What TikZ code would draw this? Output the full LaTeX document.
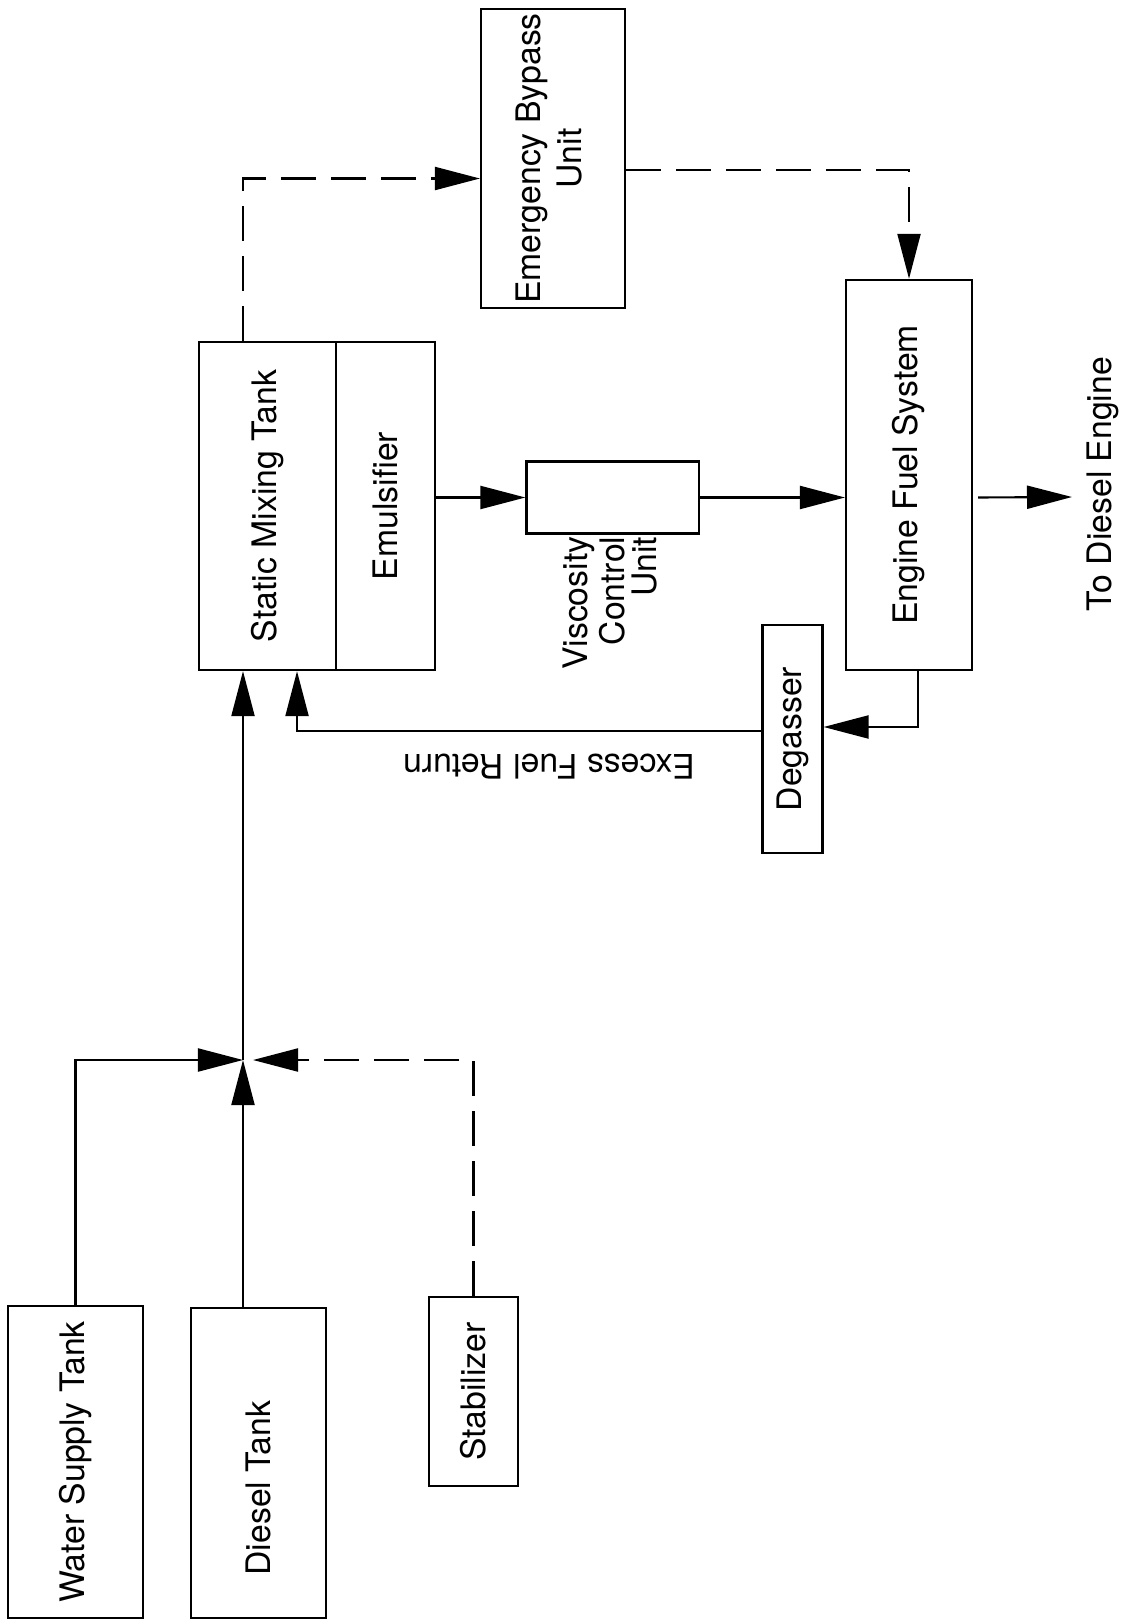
\documentclass[tikz,border=0pt]{standalone}
\usepackage{fontspec}
\setmainfont{TeX Gyre Heros}
\usepackage{graphicx}
\usetikzlibrary{arrows.meta,positioning}

\newcommand{\vtext}[1]{\rotatebox{90}{#1}}

\begin{document}
\begin{tikzpicture}[
    x=0.01cm, y=-0.01cm,
    unit/.style={rectangle, draw, line width=0.6pt, inner sep=0pt, font=\fontsize{9.6}{11.4}\selectfont},
    caption/.style={inner sep=0pt, font=\fontsize{9.6}{9.1}\selectfont},
    flow/.style={-{Triangle[length=4.5mm,width=2.3mm]}, line width=0.6pt},
    dflow/.style={flow, dash pattern=on 3.5mm off 1.5mm}
]
\useasboundingbox (0,0) rectangle (1125,1622);

% --- Supply tanks ---
\node[unit, minimum width=13.5mm, minimum height=31.2mm] (water) at (75.5,1462) {\vtext{Water Supply Tank}};
\node[unit, minimum width=13.5mm, minimum height=31mm] (diesel) at (258.5,1463) {\vtext{\hspace*{-5mm}Diesel Tank}};
\node[unit, minimum width=8.9mm, minimum height=18.9mm] (stab) at (473.5,1391.5) {\vtext{Stabilizer}};
\coordinate (mix) at (243,1060);

\draw[flow] (water.north) |- (mix);
\draw[flow] (diesel.north -| mix) -- (mix);
\draw[dflow, shorten >=1mm] (stab.north) |- (mix);

% --- Mixing ---
\node[unit, minimum width=13.7mm, minimum height=32.8mm] (static) at (267.5,506) {\vtext{Static Mixing Tank}};
\node[unit, minimum width=9.9mm, minimum height=32.8mm] (emul) at (385.5,506) {\vtext{Emulsifier}};
\draw[flow] (mix) -- (mix |- static.south);

% --- Bypass ---
\node[unit, minimum width=14.4mm, minimum height=29.9mm] (bypass) at (553,158.5)
    {\vtext{\begin{tabular}{@{}c@{}}Emergency Bypass\\ Unit\end{tabular}}};
\draw[dflow] (mix |- static.north) |- ([yshift=-2mm]bypass.west);

% --- Engine side ---
\node[unit, minimum width=17.2mm, minimum height=7.2mm] (visc) at (612.5,497.5) {};
\node[caption, rotate=90, align=right, anchor=east] (visclabel) at (610,536) {Viscosity\\ Control\\ Unit};
\node[unit, minimum width=12.6mm, minimum height=39mm] (efs) at (909,475) {\vtext{Engine Fuel System}};
\node[unit, minimum width=6mm, minimum height=22.8mm] (degas) at (792.5,739) {\vtext{Degasser}};
\node[caption, rotate=90] (todiesel) at (1103,484) {To Diesel Engine};
\node[caption, rotate=180] (excess) at (549,767) {Excess Fuel Return};
\coordinate (engine) at (1072,497);

\draw[flow] (emul.east |- visc.west) -- (visc.west);
\draw[flow] (visc.east) -- (visc.east -| efs.west);
\draw[flow] ([xshift=0.5mm]visc.east -| efs.east) -- (engine);
\draw[dflow] ([yshift=-1.15mm]bypass.east) -| (efs.north);
\draw[flow] ([xshift=0.9mm]efs.south) |- ([yshift=1.2mm]degas.east);
\draw[flow] ([yshift=0.8mm]degas.west) -| ([xshift=2.95mm]static.south);

\end{tikzpicture}
\end{document}
